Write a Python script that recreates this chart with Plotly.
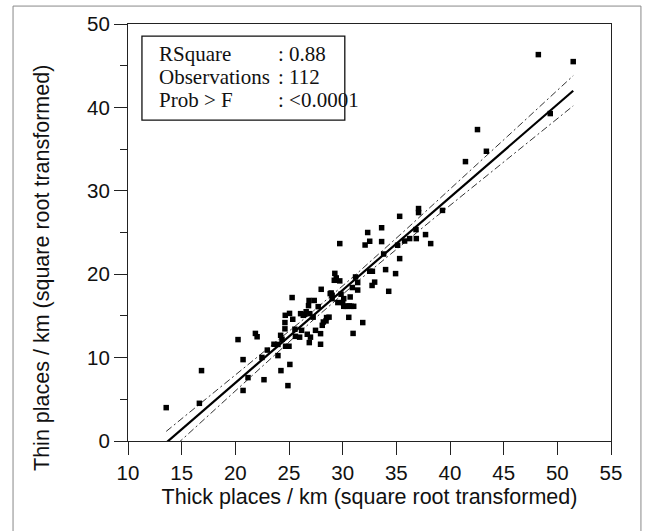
import numpy as np
import plotly.graph_objects as go

# Thick places / km (sqrt transformed) vs Thin places / km (sqrt transformed)
thick = [13.56, 16.65, 16.85, 20.25, 20.72, 20.72, 21.18, 21.87, 22.03, 22.48,
         22.67, 22.98, 23.60, 23.97, 23.97, 24.22, 24.25, 24.62, 24.62, 24.65,
         24.68, 24.90, 25.00, 25.05, 25.08, 25.29, 25.55, 25.60, 25.99, 26.08,
         26.17, 26.33, 26.60, 26.70, 26.82, 26.87, 26.89, 26.94, 27.00, 27.25,
         27.35, 27.47, 27.72, 27.94, 27.94, 28.00, 28.10, 28.20, 28.45, 28.50,
         28.73, 28.93, 29.02, 29.02, 29.27, 29.22, 29.73, 29.55, 29.73, 29.85,
         30.00, 30.10, 30.10, 30.42, 30.57, 30.60, 30.70, 30.90, 30.97, 31.03,
         31.20, 31.40, 31.40, 31.87, 32.09, 32.33, 32.52, 32.52, 32.77, 32.74,
         32.98, 33.63, 33.63, 33.82, 34.00, 34.29, 34.93, 35.12, 35.31, 35.31,
         35.77, 36.24, 36.86, 36.83, 37.07, 37.07, 37.72, 38.20, 39.30, 41.44,
         42.56, 43.39, 48.23, 49.34, 51.48, 26.45, 30.26, 30.79, 28.84, 24.35,
         25.35, 29.40]
thin = [4.00, 4.52, 8.44, 12.16, 9.76, 6.06, 7.60, 12.90, 12.50, 10.02,
        7.35, 10.90, 11.60, 11.58, 10.24, 12.67, 8.44, 14.20, 13.45, 15.07,
        11.36, 6.64, 11.36, 15.30, 9.18, 17.20, 13.40, 12.55, 12.45, 15.27,
        13.27, 15.07, 15.50, 12.80, 16.23, 16.85, 11.80, 15.27, 12.45, 14.85,
        16.85, 13.27, 16.11, 12.87, 11.60, 18.19, 13.87, 14.27, 14.40, 14.80,
        14.85, 17.75, 17.47, 17.07, 20.10, 19.27, 23.67, 16.60, 19.20, 17.60,
        16.60, 16.15, 17.07, 16.15, 14.83, 16.20, 17.27, 18.40, 12.90, 16.15,
        19.67, 19.00, 18.10, 14.20, 23.50, 25.00, 23.95, 20.35, 20.35, 18.65,
        19.05, 25.57, 23.91, 22.42, 20.55, 17.95, 20.07, 23.47, 26.94, 21.87,
        23.98, 24.27, 24.27, 25.35, 27.87, 27.39, 24.75, 23.67, 27.65, 33.50,
        37.34, 34.74, 46.33, 39.26, 45.49, 15.20, 16.15, 16.15, 17.67, 12.20,
        14.60, 19.55]

stat_labels = ["RSquare", "Observations", "Prob > F"]
stat_values = [": 0.88", ": 112", ": <0.0001"]

x = np.array(thick)
y = np.array(thin)
n = len(x)
slope, intercept = np.polyfit(x, y, 1)
resid = y - (intercept + slope * x)
s = np.sqrt(np.sum(resid ** 2) / (n - 2))
sxx = np.sum((x - x.mean()) ** 2)
t975 = 1.9818
xf = np.linspace(x.min(), x.max(), 200)
yf = intercept + slope * xf
hw = t975 * s * np.sqrt(1.0 / n + (xf - x.mean()) ** 2 / sxx)

SANS = "Liberation Sans, Arial"
SERIF = "Liberation Serif, Times New Roman"

fig = go.Figure()
fig.add_trace(go.Scatter(x=xf, y=yf + hw, mode="lines",
                         line=dict(color="#333333", width=1, dash="7px,3px,2px,3px"),
                         hoverinfo="skip"))
fig.add_trace(go.Scatter(x=xf, y=yf - hw, mode="lines",
                         line=dict(color="#333333", width=1, dash="7px,3px,2px,3px"),
                         hoverinfo="skip"))
fig.add_trace(go.Scatter(x=xf, y=yf, mode="lines",
                         line=dict(color="black", width=2.2), hoverinfo="skip"))
fig.add_trace(go.Scatter(x=thick, y=thin, mode="markers",
                         marker=dict(symbol="square", size=5.5, color="black",
                                     line=dict(width=0))))

axis_common = dict(showline=True, mirror=True, linecolor="#222222", linewidth=1,
                   ticks="outside", tickcolor="#222222", tickwidth=1, ticklen=13,
                   showgrid=False, zeroline=False,
                   tickfont=dict(family=SANS, size=20.5, color="#111111"))

fig.update_xaxes(range=[10, 55], dtick=5, tick0=10,
                 title=dict(text="Thick places / km (square root transformed)",
                            font=dict(family=SANS, size=21.5, color="#111111"),
                            standoff=6),
                 **axis_common)
fig.update_yaxes(range=[0, 50], dtick=10, tick0=0,
                 minor=dict(dtick=5, ticks="outside", ticklen=7, tickcolor="#222222", tickwidth=1),
                 **axis_common)

shapes = [
    dict(type="rect", xref="x", yref="y", x0=11.3, x1=30.2, y0=38.47, y1=48.55,
         line=dict(color="#111111", width=1.3), fillcolor="white", layer="below"),
    dict(type="rect", xref="paper", yref="paper", x0=-0.238, x1=1.062, y0=-0.22, y1=1.043,
         line=dict(color="#888888", width=1), fillcolor="rgba(0,0,0,0)"),
]
annotations = [
    dict(x=-0.178, y=0.415, xref="paper", yref="paper", textangle=-90,
         text="Thin places / km (square root transformed)", showarrow=False,
         xanchor="center", yanchor="middle",
         font=dict(family=SANS, size=21.5, color="#111111")),
]
rows_y = [46.45, 43.6, 40.85]
for lab, val, yy in zip(stat_labels, stat_values, rows_y):
    annotations.append(dict(x=12.67, y=yy, xref="x", yref="y", text=lab, showarrow=False,
                            xanchor="left", yanchor="middle",
                            font=dict(family=SERIF, size=21, color="#111111")))
    annotations.append(dict(x=23.77, y=yy, xref="x", yref="y", text=val, showarrow=False,
                            xanchor="left", yanchor="middle",
                            font=dict(family=SERIF, size=21, color="#111111")))

fig.update_layout(width=647, height=531, margin=dict(l=128, r=36, t=24, b=90),
                  plot_bgcolor="white", paper_bgcolor="white", showlegend=False,
                  shapes=shapes, annotations=annotations)
fig.write_html("out.html")
